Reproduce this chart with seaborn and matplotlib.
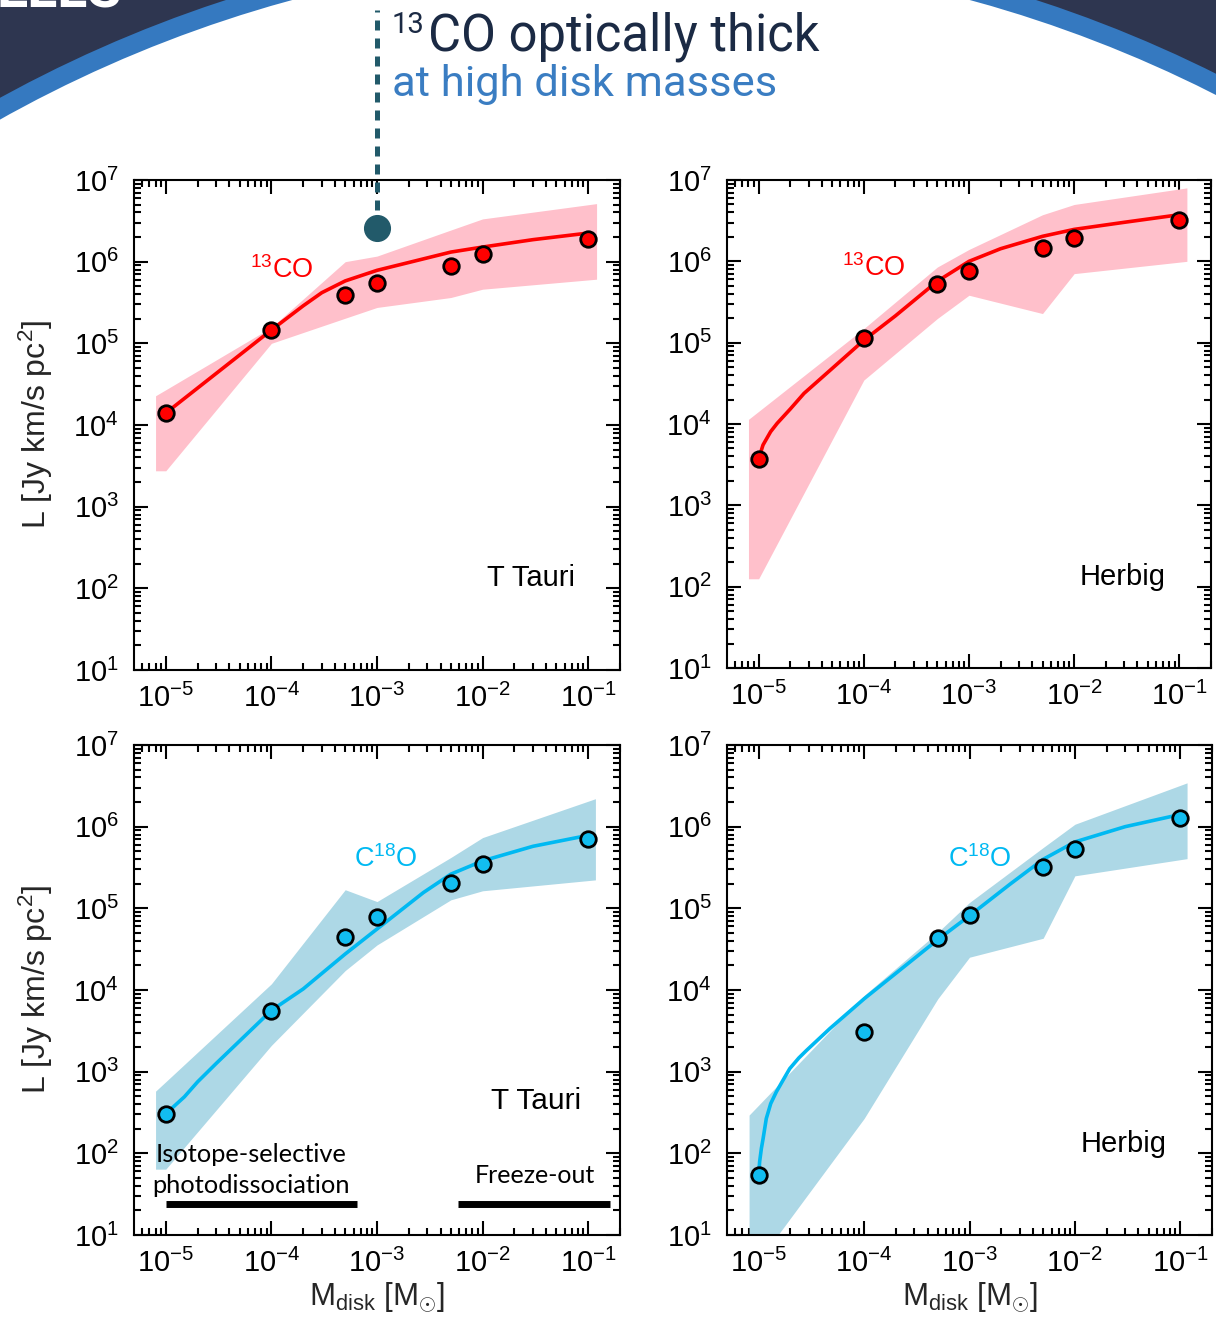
import numpy as np
import matplotlib
matplotlib.use("Agg")
import matplotlib.pyplot as plt
import seaborn as sns
from matplotlib.patches import Circle, Rectangle
from matplotlib.ticker import LogFormatterSciNotation, NullFormatter

# ---------------- data ----------------
mass_points = [1e-5, 1e-4, 5e-4, 1e-3, 5e-3, 1e-2, 1e-1]

# T Tauri, 13CO
tt13_pts = [1.40e4, 1.45e5, 3.9e5, 5.55e5, 8.8e5, 1.23e6, 1.9e6]
tt13_curve_x = [1e-5, 1e-4, 2e-4, 3e-4, 5e-4, 1e-3, 2e-3, 5e-3, 1e-2, 3e-2, 1e-1]
tt13_curve_y = [1.40e4, 1.455e5, 2.88e5, 4.17e5, 5.81e5, 7.83e5, 9.77e5, 1.31e6, 1.51e6, 1.86e6, 2.24e6]
tt13_band_x = [8e-6, 1e-5, 1e-4, 5e-4, 1e-3, 5e-3, 1e-2, 1.2e-1]
tt13_band_hi = [2.28e4, 2.70e4, 1.57e5, 1.0e6, 1.17e6, 2.44e6, 3.34e6, 5.14e6]
tt13_band_lo = [2.75e3, 2.75e3, 1.0e5, 2.03e5, 2.75e5, 3.64e5, 4.60e5, 6.10e5]

# Herbig, 13CO
hb13_pts = [3.7e3, 1.15e5, 5.2e5, 7.5e5, 1.46e6, 1.93e6, 3.25e6]
hb13_curve_x = [1e-5, 1.1e-5, 1.3e-5, 1.5e-5, 2e-5, 2.7e-5, 5e-5, 1e-4, 2e-4, 5e-4, 1e-3, 2e-3, 5e-3, 1e-2, 3e-2, 1e-1]
hb13_curve_y = [3.72e3, 5.52e3, 8.05e3, 1.02e4, 1.53e4, 2.38e4, 4.82e4, 1.07e5, 2.14e5, 5.69e5, 1.0e6, 1.43e6, 2.03e6, 2.47e6, 3.02e6, 3.74e6]
hb13_band_x = [8e-6, 1e-5, 1e-4, 5e-4, 1e-3, 5e-3, 1e-2, 1.18e-1]
hb13_band_hi = [1.14e4, 1.43e4, 1.49e5, 8.51e5, 1.40e6, 3.74e6, 5.0e6, 8.0e6]
hb13_band_lo = [125, 125, 3.47e4, 1.98e5, 3.83e5, 2.28e5, 7.06e5, 1.0e6]

# T Tauri, C18O
tt18_pts = [305, 5.6e3, 4.5e4, 7.8e4, 2.07e5, 3.5e5, 7.1e5]
tt18_curve_x = [1e-5, 1.5e-5, 2e-5, 3e-5, 1e-4, 2e-4, 5e-4, 1e-3, 2.75e-3, 5e-3, 1e-2, 3e-2, 1e-1]
tt18_curve_y = [305, 492, 750, 1.26e3, 5.62e3, 1.03e4, 2.76e4, 5.58e4, 1.56e5, 2.62e5, 3.81e5, 5.75e5, 7.83e5]
tt18_band_x = [8e-6, 1e-5, 1e-4, 5e-4, 1e-3, 5e-3, 1e-2, 1.17e-1]
tt18_band_hi = [577, 753, 1.19e4, 1.69e5, 1.21e5, 4.19e5, 7.35e5, 2.2e6]
tt18_band_lo = [64, 64, 2.1e3, 1.73e4, 3.56e4, 1.27e5, 1.64e5, 2.23e5]

# Herbig, C18O
hb18_pts = [54.5, 3.05e3, 4.3e4, 8.4e4, 3.2e5, 5.3e5, 1.29e6]
hb18_curve_x = [1e-5, 1.02e-5, 1.06e-5, 1.1e-5, 1.18e-5, 1.3e-5, 1.47e-5, 1.7e-5, 1.97e-5, 2.4e-5,
                2.84e-5, 4.72e-5, 1e-4, 5e-4, 1e-3, 2.43e-3, 5e-3, 1e-2, 3e-2, 1e-1]
hb18_curve_y = [54.5, 79, 115, 151, 267, 407, 566, 786, 1.09e3, 1.47e3,
                1.82e3, 3.36e3, 7.8e3, 4.14e4, 8.11e4, 1.98e5, 3.98e5, 6.5e5, 1.0e6, 1.41e6]
hb18_band_x = [8.1e-6, 1e-5, 1e-4, 5e-4, 1e-3, 5e-3, 1e-2, 1.16e-1]
hb18_band_hi = [294, 390, 8.57e3, 5.08e4, 1.18e5, 5.55e5, 1.07e6, 3.44e6]
hb18_band_lo = [3.3, 4.8, 267, 7.8e3, 2.52e4, 4.3e4, 2.5e5, 4.06e5]

# regime bars (T Tauri C18O panel)
photo_bar_x = [1e-5, 6.5e-4]
freeze_bar_x = [5.9e-3, 0.16]
bar_level = 24

# annotation point (13CO optically thick)
thick_x = 1e-3
thick_y = 2.6e6
thick_line_top = 1.2e9

# axis ticks
x_major = [1e-5, 1e-4, 1e-3, 1e-2, 1e-1]
y_major = [1e1, 1e2, 1e3, 1e4, 1e5, 1e6, 1e7]
x_minor = [m * d for d in [1e-6, 1e-5, 1e-4, 1e-3, 1e-2, 1e-1] for m in range(2, 10) if 5e-6 <= m * d <= 0.2]
y_minor = [m * d for d in [1e1, 1e2, 1e3, 1e4, 1e5, 1e6] for m in range(2, 10)]

# ---------------- style ----------------
sns.set_theme(style="ticks")
plt.rcParams.update({
    "font.family": ["Liberation Sans", "DejaVu Sans"],
    "mathtext.fontset": "custom",
    "mathtext.rm": "Liberation Sans",
    "mathtext.it": "Liberation Sans:italic",
    "mathtext.bf": "Liberation Sans:bold",
    "mathtext.sf": "Liberation Sans",
    "axes.edgecolor": "black",
    "axes.linewidth": 1.5,
    "xtick.color": "black",
    "ytick.color": "black",
    "text.color": "black",
    "axes.facecolor": "white",
})

RED = "#ff0000"
PINK = "#ffc0cb"
CYAN_LINE = "#00b9f2"
CYAN_PT = "#12bdf0"
LIGHTBLUE = "#add8e6"
NAVY = "#2e3650"
BLUEARC = "#3579c0"
TEAL = "#225a6a"

W, H = 1216, 1319
fig = plt.figure(figsize=(W / 100, H / 100), dpi=100)

# background slide decoration
fig.add_artist(Rectangle((0, 0), 1, 1, transform=fig.transFigure, color=NAVY, zorder=-10, lw=0))
fig.add_artist(Circle((6.31, 0.743), 13.09, transform=fig.dpi_scale_trans, color=BLUEARC, zorder=-9, lw=0))
fig.add_artist(Circle((6.31, 0.743), 12.90, transform=fig.dpi_scale_trans, color="white", zorder=-8, lw=0))
fig.text(122 / W, 1 - 7 / H, "ELLS", ha="right", va="baseline", color="white",
         fontsize=40, fontweight="bold", family="Roboto")

# title annotation
fig.text(392 / W, 1 - 33 / H, "13", family="Roboto", fontsize=21,
         color="#1b2a44", ha="left", va="baseline")
fig.text(428 / W, 1 - 50 / H, "CO optically thick", family="Roboto", fontsize=36.5,
         color="#1b2a44", ha="left", va="baseline")
fig.text(392 / W, 1 - 96 / H, "at high disk masses", family="Roboto", fontsize=31.3,
         color="#3a7dc2", ha="left", va="baseline")


def px_axes(left, top, right, bottom):
    return [left / W, 1 - bottom / H, (right - left) / W, (bottom - top) / H]


ax_tl = fig.add_axes(px_axes(134, 180, 620, 670))
ax_tr = fig.add_axes(px_axes(727, 180, 1211, 668))
ax_bl = fig.add_axes(px_axes(134, 745, 620, 1235))
ax_br = fig.add_axes(px_axes(727, 745, 1212, 1235))


def panel(ax, bx, blo, bhi, cx, cy, py, band_c, line_c, pt_c):
    ax.set_xscale("log")
    ax.set_yscale("log")
    ax.fill_between(bx, blo, bhi, color=band_c, lw=0, zorder=1)
    sns.lineplot(x=cx, y=cy, ax=ax, color=line_c, lw=2.6, zorder=2, estimator=None, sort=True)
    sns.scatterplot(x=mass_points, y=py, ax=ax, color=pt_c, edgecolor="black",
                    linewidth=2.0, s=125, zorder=3, clip_on=False)
    ax.set_xlim(5e-6, 0.2)
    ax.set_ylim(10, 1e7)
    ax.set_xticks(x_major)
    ax.set_xticks(x_minor, minor=True)
    ax.set_yticks(y_major)
    ax.set_yticks(y_minor, minor=True)
    for axis in (ax.xaxis, ax.yaxis):
        axis.set_major_formatter(LogFormatterSciNotation())
        axis.set_minor_formatter(NullFormatter())
    ax.set_xlim(5e-6, 0.2)
    ax.set_ylim(10, 1e7)
    ax.tick_params(which="both", direction="in", top=True, right=True, width=1.5)
    ax.tick_params(which="major", length=10, labelsize=21)
    ax.tick_params(which="minor", length=5)
    ax.tick_params(axis="x", pad=10)
    ax.tick_params(axis="y", pad=11)
    for s in ax.spines.values():
        s.set_linewidth(1.5)
        s.set_color("black")
    ax.set_xlabel("")
    ax.set_ylabel("")


panel(ax_tl, tt13_band_x, tt13_band_lo, tt13_band_hi, tt13_curve_x, tt13_curve_y, tt13_pts, PINK, RED, RED)
panel(ax_tr, hb13_band_x, hb13_band_lo, hb13_band_hi, hb13_curve_x, hb13_curve_y, hb13_pts, PINK, RED, RED)
panel(ax_bl, tt18_band_x, tt18_band_lo, tt18_band_hi, tt18_curve_x, tt18_curve_y, tt18_pts, LIGHTBLUE, CYAN_LINE, CYAN_PT)
panel(ax_br, hb18_band_x, hb18_band_lo, hb18_band_hi, hb18_curve_x, hb18_curve_y, hb18_pts, LIGHTBLUE, CYAN_LINE, CYAN_PT)

# species labels
ax_tl.text(0.239, 0.80, r"$^{13}$CO", transform=ax_tl.transAxes, color=RED, fontsize=19.5, va="baseline")
ax_tr.text(0.238, 0.803, r"$^{13}$CO", transform=ax_tr.transAxes, color=RED, fontsize=19.5, va="baseline")
ax_bl.text(0.453, 0.751, r"C$^{18}$O", transform=ax_bl.transAxes, color=CYAN_LINE, fontsize=19.5, va="baseline")
ax_br.text(0.455, 0.751, r"C$^{18}$O", transform=ax_br.transAxes, color=CYAN_LINE, fontsize=19.5, va="baseline")

# star type labels
ax_tl.text(0.907, 0.171, "T Tauri", transform=ax_tl.transAxes, fontsize=21, ha="right", va="baseline")
ax_tr.text(0.907, 0.171, "Herbig", transform=ax_tr.transAxes, fontsize=21, ha="right", va="baseline")
ax_bl.text(0.921, 0.257, "T Tauri", transform=ax_bl.transAxes, fontsize=21.5, ha="right", va="baseline")
ax_br.text(0.907, 0.169, "Herbig", transform=ax_br.transAxes, fontsize=21, ha="right", va="baseline")

# regime bars and labels
ax_bl.plot(photo_bar_x, [bar_level, bar_level], color="black", lw=5, solid_capstyle="butt", zorder=4)
ax_bl.plot(freeze_bar_x, [bar_level, bar_level], color="black", lw=5, solid_capstyle="butt", zorder=4)
ax_bl.text(0.241, 0.149, "Isotope-selective", transform=ax_bl.transAxes, family="Lato",
           fontsize=18.3, ha="center", va="baseline")
ax_bl.text(0.241, 0.086, "photodissociation", transform=ax_bl.transAxes, family="Lato",
           fontsize=18.3, ha="center", va="baseline")
ax_bl.text(0.949, 0.106, "Freeze-out", transform=ax_bl.transAxes, family="Lato",
           fontsize=18.0, ha="right", va="baseline")

# optically thick marker
ax_tl.plot([thick_x, thick_x], [thick_y, thick_line_top], color=TEAL, lw=3.6,
           dashes=(2.0, 1.6), dash_capstyle="butt", clip_on=False, zorder=5)
ax_tl.plot([thick_x], [thick_y], marker="o", ms=18.5, color=TEAL, mec=TEAL, clip_on=False, zorder=6)

# axis labels
for ax in (ax_tl, ax_bl):
    ax.set_ylabel(r"L [Jy km/s pc$^2$]", fontsize=23)
    ax.yaxis.set_label_coords(-0.163, 0.5)
for ax in (ax_bl, ax_br):
    ax.set_xlabel(r"M$_{\rm disk}$ [M$_{\odot}$]", fontsize=22.5)
    ax.xaxis.set_label_coords(0.5, -0.093)

fig.savefig("out.png", dpi=100)
